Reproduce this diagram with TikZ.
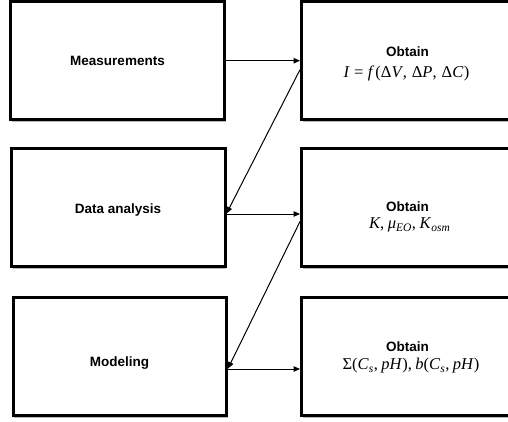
\documentclass[tikz,border=0pt]{standalone}
\usepackage{fontspec}
\setsansfont{Liberation Sans}
\newfontfamily\tmsfont{Liberation Serif}
\usetikzlibrary{arrows.meta,shadows}
\newcommand{\mysubit}[1]{\raisebox{-3.2pt}{\fontsize{11.5}{12}\selectfont\textit{#1}}}
\begin{document}
\begin{tikzpicture}[x=1pt,y=-1pt,
  box/.style={draw=black, line width=3pt, fill=white, minimum height=118pt, inner sep=0pt,
    drop shadow={shadow xshift=1pt,shadow yshift=-2.5pt,fill=black,opacity=0.28}},
  lbl/.style={font=\sffamily\bfseries\fontsize{13.5}{16}\selectfont, anchor=base, inner sep=0pt},
  mth/.style={font=\tmsfont\fontsize{16.5}{19}\selectfont, anchor=base, inner sep=0pt},
  arr/.style={line width=1pt, -{Triangle[length=6.5pt,width=5.5pt]}}]
\useasboundingbox (0,0) rectangle (508,422);
% left boxes
\node[box, minimum width=214pt] (L1) at (117.5,60.7) {};
\node[box, minimum width=213.5pt] (L2) at (118.25,207.5) {};
\node[box, minimum width=213.5pt] (L3) at (119.75,356.5) {};
\node[lbl] (t1) at (117.5,65.7) {Measurements};
\node[lbl] (t2) at (118,213.3) {Data analysis};
\node[lbl] (t3) at (119.5,366.5) {Modeling};
% right boxes
\node[box, minimum width=211.5pt] (R1) at (407.25,60.7) {};
\node[box, minimum width=211.5pt] (R2) at (407.25,207.5) {};
\node[box, minimum width=211.5pt] (R3) at (407.25,356.5) {};
% right labels
\node[lbl] (o1) at (407.5,56.7) {Obtain};
\node[mth] (f1) at (406.5,77.3) {\textit{I}\hspace{4.5pt}=\hspace{4.5pt}\textit{f}\kern1pt(Δ\textit{V}\kern-0.5pt,\hspace{5pt}Δ\textit{P},\hspace{5pt}Δ\textit{C}\kern0.5pt)};
\node[lbl] (o2) at (407.5,211.7) {Obtain};
\node[mth] (f2) at (409.5,228) {\textit{K},\hspace{3.5pt}\textit{μ}\mysubit{EO}\kern0.5pt,\hspace{3.5pt}\textit{K}\mysubit{osm}};
\node[lbl] (o3) at (407.5,351.7) {Obtain};
\node[mth] (f3) at (411,369) {Σ(\textit{C}\mysubit{s}\kern0.5pt,\hspace{3.5pt}\textit{pH}),\hspace{3.5pt}\textit{b}(\textit{C}\mysubit{s}\kern0.5pt,\hspace{3.5pt}\textit{pH})};
% connectors
\draw[arr] (L1) -- (R1);
\draw[arr] ([yshift=-9pt]R1.west) -- ([yshift=-6pt]L2.east);
\draw[arr] ([yshift=-6.5pt]L2.east) -- ([yshift=-6.5pt]R2.west);
\draw[arr] ([yshift=-14pt]R2.west) -- ([yshift=-12pt]L3.east);
\draw[arr] ([yshift=-12.5pt]L3.east) -- ([yshift=-12.5pt]R3.west);
\end{tikzpicture}
\end{document}
